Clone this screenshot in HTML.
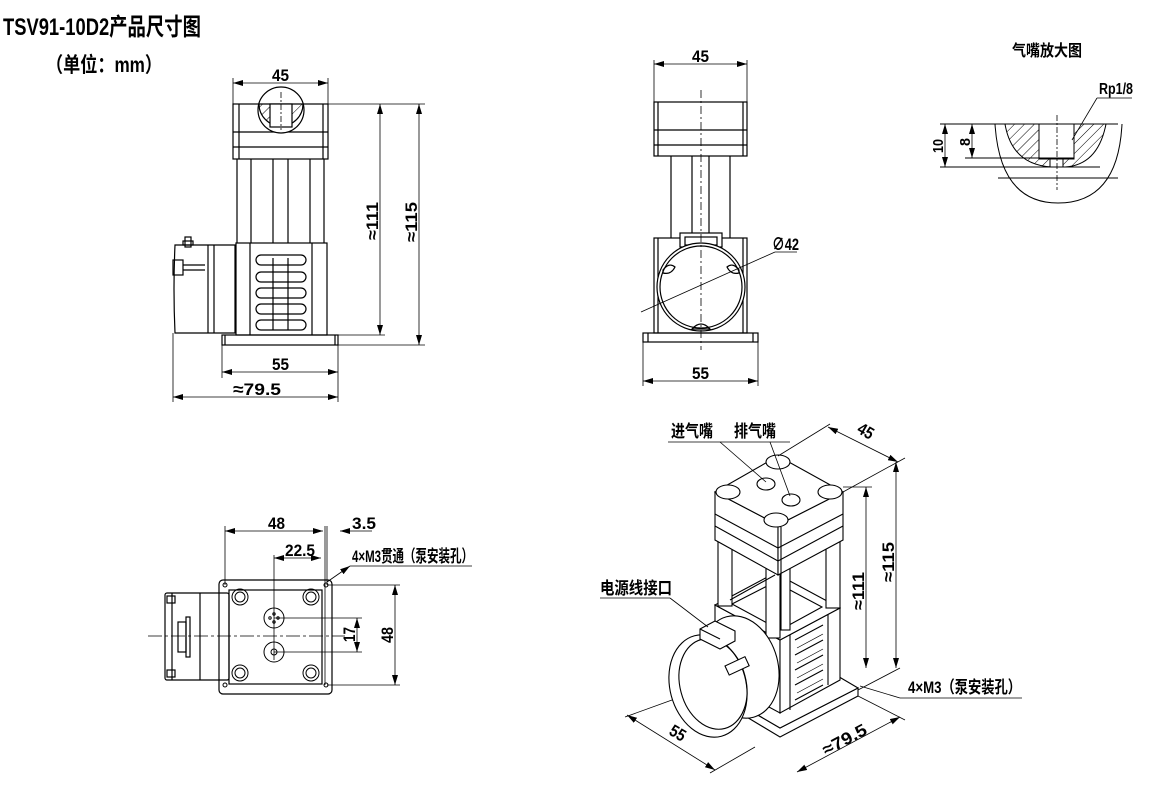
<!DOCTYPE html>
<html><head><meta charset="utf-8"><style>
html,body{margin:0;padding:0;background:#fff;}
svg{display:block}
text{font-family:"Liberation Sans","Noto Sans CJK SC",sans-serif;font-weight:bold;fill:#000}
</style></head><body>
<svg width="1160" height="794" viewBox="0 0 1160 794" xmlns="http://www.w3.org/2000/svg">
<defs>
<marker id="a" viewBox="0 0 10 6" refX="10" refY="3" markerWidth="10" markerHeight="6" orient="auto-start-reverse" markerUnits="userSpaceOnUse"><path d="M0,0L10,3L0,6z" fill="#000"/></marker>
<pattern id="h" width="7" height="7" patternUnits="userSpaceOnUse" patternTransform="rotate(45)"><line x1="0" y1="0" x2="0" y2="7" stroke="#000" stroke-width="1"/></pattern>
</defs>
<text x="3" y="35" font-size="24" textLength="198" lengthAdjust="spacingAndGlyphs">TSV91-10D2产品尺寸图</text>
<text x="46" y="72" font-size="21" textLength="116" lengthAdjust="spacingAndGlyphs">（单位：mm）</text>

<!-- VIEW 1 -->
<g stroke="#000" fill="none" stroke-width="1.2">
<rect x="233" y="104" width="95" height="55"/>
<line x1="239" y1="104" x2="239" y2="159"/><line x1="323" y1="104" x2="323" y2="159"/>
<line x1="233" y1="132" x2="328" y2="132"/><line x1="233" y1="147" x2="328" y2="147"/>
<circle cx="281" cy="110" r="23" fill="#fff"/>
<path d="M259,104 A22,22 0 0 0 303,104 Z" fill="url(#h)"/>
<rect x="270" y="104" width="22" height="23" fill="#fff"/>
<line x1="281" y1="92" x2="281" y2="130" stroke-dasharray="6,2,2,2" stroke-width="0.8"/>
<line x1="237" y1="159" x2="237" y2="243"/><line x1="251" y1="159" x2="251" y2="243"/>
<line x1="273" y1="159" x2="273" y2="243"/><line x1="288" y1="159" x2="288" y2="243"/>
<line x1="310" y1="159" x2="310" y2="243"/><line x1="324" y1="159" x2="324" y2="243"/>
<rect x="236" y="243" width="91" height="92"/>
<line x1="250" y1="243" x2="250" y2="335"/><line x1="312" y1="243" x2="312" y2="335"/>
<rect x="256" y="255" width="50" height="10" rx="5"/><rect x="256" y="272" width="50" height="10" rx="5"/>
<rect x="256" y="288" width="50" height="10" rx="5"/><rect x="256" y="304" width="50" height="10" rx="5"/>
<rect x="256" y="320" width="50" height="10" rx="5"/>
<line x1="273" y1="258" x2="273" y2="330"/><line x1="288" y1="258" x2="288" y2="330"/>
<rect x="222" y="335" width="116" height="10"/><line x1="225" y1="335" x2="225" y2="345"/><line x1="335" y1="335" x2="335" y2="345"/>
<path d="M175,245 L235,245 L235,333 L175,333 Q173,289 175,245Z"/>
<line x1="208" y1="245" x2="208" y2="333"/><line x1="214" y1="245" x2="214" y2="333"/>
<rect x="173" y="260" width="10" height="15"/><line x1="183" y1="265" x2="205" y2="265"/><line x1="183" y1="270" x2="205" y2="270"/>
<rect x="185" y="237" width="6" height="10"/><rect x="183" y="241" width="10" height="4"/>
<line x1="233" y1="78" x2="233" y2="104" stroke-width="0.8"/><line x1="328" y1="78" x2="328" y2="104" stroke-width="0.8"/>
<line x1="233" y1="83" x2="328" y2="83" stroke-width="0.8" marker-start="url(#a)" marker-end="url(#a)"/>
<line x1="328" y1="104" x2="425" y2="104" stroke-width="0.8"/><line x1="327" y1="335" x2="385" y2="335" stroke-width="0.8"/><line x1="338" y1="345" x2="425" y2="345" stroke-width="0.8"/>
<line x1="380" y1="104" x2="380" y2="335" stroke-width="0.8" marker-start="url(#a)" marker-end="url(#a)"/>
<line x1="419" y1="104" x2="419" y2="345" stroke-width="0.8" marker-start="url(#a)" marker-end="url(#a)"/>
<line x1="222" y1="345" x2="222" y2="378" stroke-width="0.8"/><line x1="338" y1="345" x2="338" y2="402" stroke-width="0.8"/>
<line x1="173" y1="333" x2="173" y2="402" stroke-width="0.8"/>
<line x1="222" y1="372" x2="338" y2="372" stroke-width="0.8" marker-start="url(#a)" marker-end="url(#a)"/>
<line x1="173" y1="397" x2="338" y2="397" stroke-width="0.8" marker-start="url(#a)" marker-end="url(#a)"/>
</g>
<text x="272" y="81" font-size="17" textLength="17" lengthAdjust="spacingAndGlyphs">45</text>
<text x="272" y="370" font-size="17" textLength="17" lengthAdjust="spacingAndGlyphs">55</text>
<text x="233" y="395" font-size="17" textLength="48" lengthAdjust="spacingAndGlyphs">≈79.5</text>
<text transform="translate(378,240) rotate(-90)" font-size="17" textLength="38" lengthAdjust="spacingAndGlyphs">≈111</text>
<text transform="translate(417,242) rotate(-90)" font-size="17" textLength="40" lengthAdjust="spacingAndGlyphs">≈115</text>

<!-- VIEW 2 -->
<g stroke="#000" fill="none" stroke-width="1.2">
<rect x="654" y="102" width="93" height="54"/>
<line x1="658" y1="102" x2="658" y2="156"/><line x1="743" y1="102" x2="743" y2="156"/>
<line x1="654" y1="130" x2="747" y2="130"/><line x1="654" y1="145" x2="747" y2="145"/>
<line x1="671" y1="156" x2="671" y2="238"/><line x1="692" y1="156" x2="692" y2="238"/>
<line x1="709" y1="156" x2="709" y2="238"/><line x1="730" y1="156" x2="730" y2="238"/>
<rect x="654" y="238" width="93" height="95"/>
<line x1="658" y1="238" x2="658" y2="333"/><line x1="743" y1="238" x2="743" y2="333"/>
<rect x="680" y="233" width="42" height="14" fill="#fff"/><rect x="685" y="237" width="32" height="8"/>
<circle cx="701" cy="287" r="44" fill="#fff"/><circle cx="701" cy="287" r="41"/>
<path d="M663,270 q6,-8 12,-3 q-4,8 -12,6z"/><path d="M739,270 q-6,-8 -12,-3 q4,8 12,6z"/>
<path d="M692,329 q9,-10 18,0z"/>
<rect x="643" y="333" width="115" height="9"/><line x1="648" y1="333" x2="648" y2="342"/><line x1="753" y1="333" x2="753" y2="342"/>
<line x1="701" y1="90" x2="701" y2="350" stroke-dasharray="8,3,2,3" stroke-width="0.8"/>
<line x1="654" y1="60" x2="654" y2="102" stroke-width="0.8"/><line x1="747" y1="60" x2="747" y2="102" stroke-width="0.8"/>
<line x1="654" y1="64" x2="747" y2="64" stroke-width="0.8" marker-start="url(#a)" marker-end="url(#a)"/>
<line x1="643" y1="342" x2="643" y2="386" stroke-width="0.8"/><line x1="758" y1="342" x2="758" y2="386" stroke-width="0.8"/>
<line x1="643" y1="381" x2="758" y2="381" stroke-width="0.8" marker-start="url(#a)" marker-end="url(#a)"/>
<line x1="641" y1="312" x2="775" y2="252" stroke-width="0.8"/><line x1="775" y1="252" x2="797" y2="252" stroke-width="0.8"/>
</g>
<text x="692" y="62" font-size="17" textLength="17" lengthAdjust="spacingAndGlyphs">45</text>
<text x="692" y="379" font-size="17" textLength="17" lengthAdjust="spacingAndGlyphs">55</text>
<text x="772" y="250" font-size="17" textLength="27" lengthAdjust="spacingAndGlyphs">∅42</text>

<!-- DETAIL -->
<text x="1012" y="56" font-size="16" textLength="70" lengthAdjust="spacingAndGlyphs">气嘴放大图</text>
<text x="1099" y="94" font-size="16" textLength="34" lengthAdjust="spacingAndGlyphs">Rp1/8</text>
<g stroke="#000" fill="none" stroke-width="1">
<path d="M995,124 Q1000,203 1058,203 Q1118,203 1122,124"/>
<path d="M1005,124 Q1012,165 1052,167 L1065,167 Q1098,165 1106,124 Z" fill="url(#h)"/>
<rect x="1039" y="124" width="35" height="35" fill="#fff"/>
<rect x="1050" y="159" width="13" height="8" fill="#fff"/>
<line x1="940" y1="124" x2="1118" y2="124"/>
<line x1="965" y1="158" x2="1074" y2="158"/><line x1="940" y1="167" x2="1100" y2="167"/>
<line x1="998" y1="178" x2="1118" y2="178"/>
<line x1="1057" y1="115" x2="1057" y2="190" stroke-dasharray="6,2,2,2" stroke-width="0.8"/>
<line x1="945" y1="124" x2="945" y2="167" stroke-width="0.8" marker-start="url(#a)" marker-end="url(#a)"/>
<line x1="972" y1="124" x2="972" y2="158" stroke-width="0.8" marker-start="url(#a)" marker-end="url(#a)"/>
<line x1="1072" y1="140" x2="1097" y2="98" stroke-width="0.8"/><line x1="1097" y1="98" x2="1132" y2="98" stroke-width="0.8"/>
</g>
<text transform="translate(943,153) rotate(-90)" font-size="15" textLength="14" lengthAdjust="spacingAndGlyphs">10</text>
<text transform="translate(970,146) rotate(-90)" font-size="15" textLength="8" lengthAdjust="spacingAndGlyphs">8</text>

<!-- VIEW 3 top -->
<g stroke="#000" fill="none" stroke-width="1.2">
<rect x="219" y="580" width="113" height="114" rx="4"/>
<rect x="229" y="590" width="93" height="94"/>
<g stroke-width="1"><circle cx="240" cy="597" r="8"/><circle cx="240" cy="597" r="5"/>
<circle cx="311" cy="597" r="8"/><circle cx="311" cy="597" r="5"/>
<circle cx="240" cy="673" r="8"/><circle cx="240" cy="673" r="5"/>
<circle cx="311" cy="673" r="8"/><circle cx="311" cy="673" r="5"/>
<circle cx="225" cy="585" r="2"/><circle cx="326" cy="585" r="2"/><circle cx="225" cy="685" r="2"/><circle cx="326" cy="685" r="2"/>
<circle cx="274" cy="618" r="10"/><circle cx="274" cy="652" r="10"/><circle cx="274" cy="652" r="3"/>
<circle cx="270" cy="618" r="1.2"/><circle cx="278" cy="618" r="1.2"/><circle cx="274" cy="614" r="1.2"/><circle cx="274" cy="622" r="1.2"/></g>
<rect x="165" y="593" width="64" height="87" rx="2"/>
<line x1="200" y1="593" x2="200" y2="680"/><line x1="172" y1="593" x2="172" y2="680"/>
<rect x="167" y="596" width="8" height="7"/><rect x="167" y="670" width="8" height="7"/>
<rect x="178" y="622" width="8" height="30"/><rect x="186" y="617" width="4" height="40"/>
<line x1="148" y1="636" x2="345" y2="636" stroke-dasharray="14,3,3,3" stroke-width="0.8"/>
<line x1="225" y1="526" x2="225" y2="585" stroke-width="0.8"/><line x1="325" y1="526" x2="325" y2="685" stroke-width="0.8"/><line x1="327" y1="526" x2="327" y2="585" stroke-width="0.8"/>
<line x1="225" y1="531" x2="323" y2="531" stroke-width="0.8" marker-start="url(#a)" marker-end="url(#a)"/>
<line x1="340" y1="531" x2="372" y2="531" stroke-width="0.8" marker-start="url(#a)"/>
<line x1="274" y1="555" x2="274" y2="660" stroke-width="0.8"/>
<line x1="274" y1="558" x2="321" y2="558" stroke-width="0.8" marker-start="url(#a)" marker-end="url(#a)"/>
<line x1="274" y1="618" x2="362" y2="618" stroke-width="0.8"/><line x1="274" y1="652" x2="362" y2="652" stroke-width="0.8"/>
<line x1="357" y1="618" x2="357" y2="652" stroke-width="0.8" marker-start="url(#a)" marker-end="url(#a)"/>
<line x1="327" y1="585" x2="400" y2="585" stroke-width="0.8"/><line x1="327" y1="685" x2="400" y2="685" stroke-width="0.8"/>
<line x1="395" y1="585" x2="395" y2="685" stroke-width="0.8" marker-start="url(#a)" marker-end="url(#a)"/>
<line x1="327" y1="582" x2="350" y2="566" stroke-width="0.8" marker-end="url(#a)"/>
<line x1="350" y1="566" x2="472" y2="566" stroke-width="0.8"/>
</g>
<text x="268" y="529" font-size="17" textLength="17" lengthAdjust="spacingAndGlyphs">48</text>
<text x="352" y="529" font-size="17" textLength="24" lengthAdjust="spacingAndGlyphs">3.5</text>
<text x="285" y="556" font-size="17" textLength="30" lengthAdjust="spacingAndGlyphs">22.5</text>
<text x="352" y="562" font-size="17" textLength="121" lengthAdjust="spacingAndGlyphs">4×M3贯通（泵安装孔）</text>
<text transform="translate(355,642) rotate(-90)" font-size="17" textLength="15" lengthAdjust="spacingAndGlyphs">17</text>
<text transform="translate(393,643) rotate(-90)" font-size="17" textLength="16" lengthAdjust="spacingAndGlyphs">48</text>

<!-- ISO VIEW -->
<g stroke="#000" fill="#fff" stroke-width="1.1">
<path d="M715,690 L780,728 L858,688 L858,696 L780,737 L715,698 Z"/>
<path d="M715,690 L790,648 L858,688 L780,728 Z"/>
<path d="M715,605 L780,640 L780,713 L715,678 Z"/>
<path d="M780,640 L840,608 L840,680 L780,713 Z"/>
<path d="M715,605 L775,573 L840,608 L780,640 Z"/>
<path d="M732,604 L775,582 L822,607 L780,630 Z"/>
<line x1="790" y1="635" x2="790" y2="710"/><line x1="828" y1="614" x2="828" y2="685"/>
<path d="M795,640 l28,-15 M795,655 l28,-15 M795,670 l28,-15 M795,685 l28,-15 M795,700 l28,-15" fill="none"/>
<path d="M797,648 l26,-14 M797,663 l26,-14 M797,678 l26,-14 M797,693 l26,-14" fill="none" stroke-width="0.7"/>
<rect x="718" y="540" width="14" height="66"/><rect x="766" y="560" width="14" height="78"/>
<rect x="826" y="540" width="14" height="68"/><rect x="781" y="560" width="9" height="70"/>
<line x1="730" y1="600" x2="775" y2="575" fill="none"/>
<path d="M715,492 L778,525 L778,575 L715,540 Z"/>
<path d="M778,525 L843,492 L843,540 L778,575 Z"/>
<path d="M715,492 L778,456 L843,492 L778,525 Z"/>
<path d="M715,514 L778,548 L843,514 M715,526 L778,561 L843,526" fill="none"/>
<line x1="781" y1="527" x2="781" y2="575"/>
<ellipse cx="728" cy="492" rx="12" ry="7"/><ellipse cx="778" cy="462" rx="12" ry="7"/>
<ellipse cx="830" cy="492" rx="12" ry="7"/><ellipse cx="776" cy="520" rx="12" ry="7"/>
<ellipse cx="766" cy="484" rx="9" ry="6"/><ellipse cx="791" cy="500" rx="9" ry="6"/>
<ellipse cx="740" cy="667" rx="38" ry="52" transform="rotate(-15 740 667)"/>
<path d="M700,640 L740,618 L775,680 L735,710 Z" stroke="none"/>
<ellipse cx="708" cy="686" rx="38" ry="52" transform="rotate(-15 708 686)"/>
<ellipse cx="713" cy="684" rx="33" ry="46" transform="rotate(-15 713 684)" fill="none"/>
<path d="M700,629 l15,-8 l20,10 l0,10 l-15,8 l-20,-10z"/>
<line x1="700" y1="629" x2="720" y2="639" fill="none"/>
<rect x="725" y="666" width="22" height="10" transform="rotate(-25 725 666)"/>
<g fill="none" stroke-width="0.8">
<line x1="843" y1="492" x2="905" y2="458"/><line x1="778" y1="456" x2="830" y2="424"/>
<line x1="828" y1="427" x2="898" y2="462" marker-start="url(#a)" marker-end="url(#a)"/>
<line x1="843" y1="487" x2="872" y2="487"/>
<line x1="866" y1="487" x2="866" y2="668" marker-start="url(#a)" marker-end="url(#a)"/>
<line x1="896" y1="462" x2="896" y2="668" marker-start="url(#a)" marker-end="url(#a)"/>
<line x1="858" y1="690" x2="900" y2="668"/>
<line x1="672" y1="700" x2="625" y2="717"/><line x1="755" y1="747" x2="710" y2="773"/>
<line x1="627" y1="715" x2="715" y2="770" marker-start="url(#a)" marker-end="url(#a)"/>
<line x1="858" y1="696" x2="905" y2="720"/>
<line x1="797" y1="772" x2="900" y2="717" marker-start="url(#a)" marker-end="url(#a)"/>
<line x1="668" y1="442" x2="790" y2="442"/>
<line x1="720" y1="442" x2="766" y2="482"/><line x1="770" y1="442" x2="790" y2="496"/>
<line x1="600" y1="598" x2="670" y2="598"/><line x1="670" y1="598" x2="708" y2="627"/>
<line x1="860" y1="686" x2="900" y2="698"/><line x1="900" y1="698" x2="1022" y2="698"/>
</g>
</g>
<text x="671" y="437" font-size="17" textLength="42" lengthAdjust="spacingAndGlyphs">进气嘴</text>
<text x="734" y="437" font-size="17" textLength="42" lengthAdjust="spacingAndGlyphs">排气嘴</text>
<text x="600" y="594" font-size="17" textLength="72" lengthAdjust="spacingAndGlyphs">电源线接口</text>
<text x="908" y="693" font-size="17" textLength="113" lengthAdjust="spacingAndGlyphs">4×M3（泵安装孔）</text>
<text transform="translate(856,432) rotate(30)" font-size="17" textLength="16" lengthAdjust="spacingAndGlyphs">45</text>
<text transform="translate(864,610) rotate(-90)" font-size="17" textLength="38" lengthAdjust="spacingAndGlyphs">≈111</text>
<text transform="translate(894,582) rotate(-90)" font-size="17" textLength="40" lengthAdjust="spacingAndGlyphs">≈115</text>
<text transform="translate(668,734) rotate(30)" font-size="17" textLength="16" lengthAdjust="spacingAndGlyphs">55</text>
<text transform="translate(826,756) rotate(-28)" font-size="17" textLength="48" lengthAdjust="spacingAndGlyphs">≈79.5</text>
</svg>
</body></html>
